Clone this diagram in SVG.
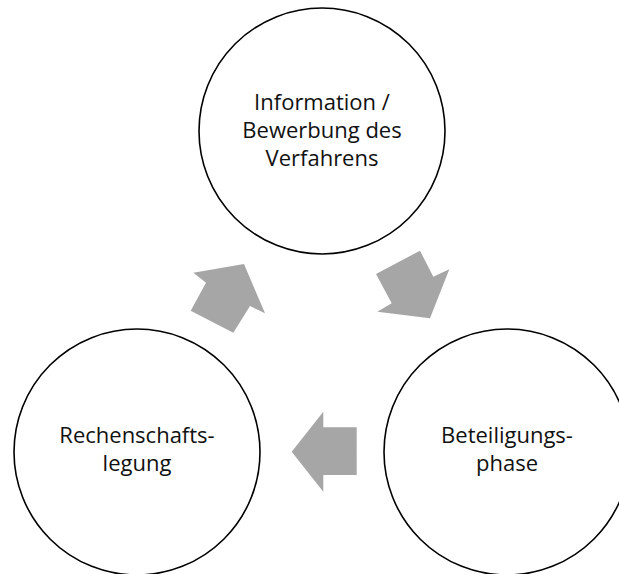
<svg xmlns="http://www.w3.org/2000/svg" width="619" height="574" viewBox="0 0 619 574">
<style>
.node circle{fill:#fff;stroke:#000;stroke-width:1.6}
.node text{font-family:"Open Sans","Liberation Sans",sans-serif;font-size:22px;fill:#111;text-anchor:middle}
.arr{fill:#a6a6a6;stroke:none}
</style>
<rect width="619" height="574" fill="#fff"/>
<g id="connectors">
<polygon class="arr" points="244,264 193.3,272.7 206,282.7 190.7,310.7 233.3,332.7 250,306 265,313.3"/>
<polygon class="arr" points="376,274 420,250.7 433.3,276.7 449.3,269.3 430,318.3 377.3,311.7 391.7,303.3"/>
<polygon class="arr" points="291.7,451.7 323.3,411.7 323.3,427.3 356.7,427.3 356.7,475 323.3,475 323.3,491.7"/>
</g>
<g id="node-info" class="node">
<circle cx="322" cy="131" r="123"/>
<text x="322" y="110">Information /</text>
<text x="322" y="138">Bewerbung des</text>
<text x="322" y="166">Verfahrens</text>
</g>
<g id="node-beteiligung" class="node">
<circle cx="507" cy="452" r="123"/>
<text x="507" y="443">Beteiligungs-</text>
<text x="507" y="471">phase</text>
</g>
<g id="node-rechenschaft" class="node">
<circle cx="137" cy="452" r="123"/>
<text x="137" y="443">Rechenschafts-</text>
<text x="137" y="471">legung</text>
</g>
</svg>
